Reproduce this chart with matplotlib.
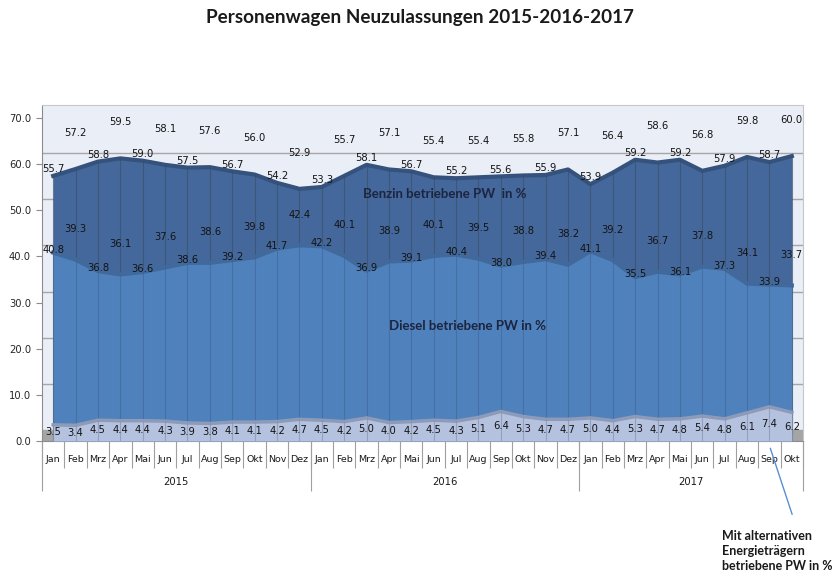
import matplotlib
matplotlib.use('Agg')
import matplotlib.pyplot as plt
import matplotlib.transforms as mtransforms
import numpy as np

months = ['Jan', 'Feb', 'Mrz', 'Apr', 'Mai', 'Jun', 'Jul', 'Aug', 'Sep', 'Okt', 'Nov', 'Dez']
years = ['2015', '2016', '2017']
months_per_year = [12, 12, 10]

alt = [3.5, 3.4, 4.5, 4.4, 4.4, 4.3, 3.9, 3.8, 4.1, 4.1, 4.2, 4.7,
       4.5, 4.2, 5.0, 4.0, 4.2, 4.5, 4.3, 5.1, 6.4, 5.3, 4.7, 4.7,
       5.0, 4.4, 5.3, 4.7, 4.8, 5.4, 4.8, 6.1, 7.4, 6.2]
diesel = [40.8, 39.3, 36.8, 36.1, 36.6, 37.6, 38.6, 38.6, 39.2, 39.8, 41.7, 42.4,
          42.2, 40.1, 36.9, 38.9, 39.1, 40.1, 40.4, 39.5, 38.0, 38.8, 39.4, 38.2,
          41.1, 39.2, 35.5, 36.7, 36.1, 37.8, 37.3, 34.1, 33.9, 33.7]
benzin = [55.7, 57.2, 58.8, 59.5, 59.0, 58.1, 57.5, 57.6, 56.7, 56.0, 54.2, 52.9,
          53.3, 55.7, 58.1, 57.1, 56.7, 55.4, 55.2, 55.4, 55.6, 55.8, 55.9, 57.1,
          53.9, 56.4, 59.2, 58.6, 59.2, 56.8, 57.9, 59.8, 58.7, 60.0]

month_labels = []
for n in months_per_year:
    month_labels += months[:n]
x = np.arange(len(alt))

W, H = 839, 577
fig = plt.figure(figsize=(W / 100, H / 100), dpi=100)
ax = fig.add_axes([42 / W, 1 - 441 / H, (803 - 42) / W, (441 - 105) / H])
ax.set_xlim(-0.5, len(x) - 0.5)
ax.set_ylim(0, 72.8)
ax.set_facecolor('#eaeef7')

# 3D look: back wall / rear series shifted up a bit
back = mtransforms.offset_copy(ax.transData, fig=fig, x=1, y=11, units='dots')
rear = mtransforms.offset_copy(ax.transData, fig=fig, x=0, y=8, units='dots')

for v in range(10, 70, 10):
    ax.plot([-0.5, len(x) - 0.5], [v, v], color='#a6a6a6', lw=1.0, transform=back, zorder=1)

# floor
ax.fill_between([-0.5, len(x) - 0.5], 0, 2.4, color='#a5a5a5', zorder=1.5)

ax.fill_between(x, 0, benzin, color='#44689b', transform=rear, zorder=2, lw=0)
ax.plot(x, benzin, color='#34527c', lw=3, transform=rear, zorder=2.1, solid_joinstyle='round')
ax.vlines(x, 0, benzin, color='#3a4a60', lw=0.8, alpha=0.6, transform=rear, zorder=2.2)

ax.fill_between(x, 0, diesel, color='#4f81bd', zorder=3, lw=0)
ax.plot(x, diesel, color='#41699c', lw=3, zorder=3.1, solid_joinstyle='round')
ax.vlines(x, 0, diesel, color='#3f5f8a', lw=0.8, alpha=0.5, zorder=3.2)

ax.fill_between(x, 0, alt, color='#b4c2df', zorder=4, lw=0)
ax.plot(x, alt, color='#8d9bb8', lw=2.5, zorder=4.1)
ax.vlines(x, 0, alt, color='#7f8ca6', lw=0.8, alpha=0.6, zorder=4.2)

lab = dict(ha='center', va='center', fontsize=7.2, color='#141414', zorder=6)
for i in x:
    b_off = 3.2 if i % 2 == 0 else 9.6
    ax.text(i, benzin[i] + b_off, f'{benzin[i]:.1f}', **lab)
    d_off = 0.6 if i % 2 == 0 else 6.6
    ax.text(i, diesel[i] + d_off, f'{diesel[i]:.1f}', **lab)
    ax.text(i, alt[i] * 0.45 + 0.3, f'{alt[i]:.1f}', **lab)

ax.text(17.5, 53.5, 'Benzin betriebene PW  in %', ha='center', va='center',
        fontsize=9.5, fontweight='bold', family='Lato', color='#1c2540', zorder=6)
ax.text(18.5, 25, 'Diesel betriebene PW in %', ha='center', va='center',
        fontsize=9.5, fontweight='bold', family='Lato', color='#1c2540', zorder=6)

ax.set_yticks(np.arange(0, 71, 10))
ax.set_yticklabels([f'{v:.1f}' for v in np.arange(0, 71, 10)], fontsize=7.2, color='#262626')
ax.tick_params(axis='y', length=4, color='#8c8c8c', pad=4)
ax.set_xticks([])
for s in ['top', 'right']:
    ax.spines[s].set_color('#c8c8c8')
ax.spines['left'].set_color('#8c8c8c')
ax.spines['bottom'].set_color('#8c8c8c')

# category axis below
to_y = lambda py: 1 - py / H
xt = ax.get_xaxis_transform()
ax.vlines(np.arange(len(x) + 1) - 0.5, 0, -27 / 336, transform=xt, color='#a0a0a0', lw=0.8, clip_on=False)
for i, m in enumerate(month_labels):
    ax.text(i, -18 / 336, m, transform=xt, ha='center', va='center', fontsize=6.8, color='#1a1a1a')
bounds = np.concatenate([[0], np.cumsum(months_per_year)]) - 0.5
ax.vlines(bounds, 0, -50 / 336, transform=xt, color='#a0a0a0', lw=0.8, clip_on=False)
for j, yname in enumerate(years):
    ax.text((bounds[j] + bounds[j + 1]) / 2, -41 / 336, yname, transform=xt,
            ha='center', va='center', fontsize=7.2, color='#1a1a1a')

fig.text(420 / W, to_y(18), 'Personenwagen Neuzulassungen 2015-2016-2017', ha='center', va='center',
         fontsize=13.6, fontweight='bold', family='Lato', color='#1a1a1a')

ax.annotate('', xy=(32, -1), xytext=(793 / W, to_y(517)), textcoords='figure fraction',
            arrowprops=dict(arrowstyle='-', color='#5b8fd0', lw=1), annotation_clip=False)
fig.text(722 / W, to_y(551), 'Mit alternativen\nEnergieträgern\nbetriebene PW in %', ha='left', va='center',
         fontsize=9, fontweight='bold', family='Lato', color='#1a1a1a', linespacing=1.35)

fig.savefig('out.png', dpi=100)
